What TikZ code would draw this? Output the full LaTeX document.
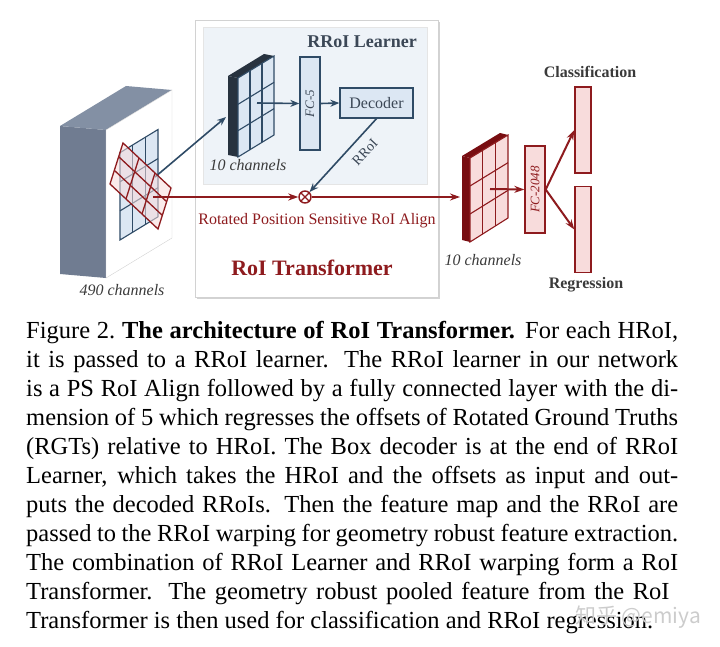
\documentclass[tikz,border=0pt]{standalone}
\usepackage{fontspec}
\usepackage{graphicx}
\setmainfont{Liberation Serif}
\newfontfamily\cjkfont{Noto Sans CJK SC}
\usepackage{tikz}
\usetikzlibrary{arrows.meta, calc, shadows}

\definecolor{bluedk}{HTML}{2F4B66}
\definecolor{bluefl}{HTML}{DCE7F3}
\definecolor{learnfl}{HTML}{EEF3F8}
\definecolor{slabdk}{HTML}{27323F}
\definecolor{reddk}{HTML}{8E1B1E}
\definecolor{redfl}{HTML}{F8DCDC}
\definecolor{redside}{HTML}{780D11}
\definecolor{cubeside}{HTML}{707C91}
\definecolor{cubetop}{HTML}{8390A4}
\definecolor{txtgray}{HTML}{3A3A3A}
\definecolor{learntxt}{HTML}{3B4756}

\tikzset{
  gridB/.style   = {draw=bluedk, line width=1.1pt},
  gridR/.style   = {draw=reddk, line width=1.3pt},
  barrow/.style  = {draw=bluedk, line width=1.6pt, -{Stealth[length=9pt,width=7pt]}},
  rarrow/.style  = {draw=reddk, line width=2pt, -{Stealth[length=10pt,width=7pt]}},
  fcB/.style     = {rectangle, draw=bluedk, fill=bluefl, line width=1.4pt, inner sep=0pt,
                    minimum width=20pt, minimum height=93pt,
                    font=\fontsize{13}{13}\selectfont\itshape, text=learntxt},
  fcR/.style     = {rectangle, draw=reddk, fill=redfl, line width=1.4pt, inner sep=0pt,
                    minimum width=20pt, minimum height=87pt,
                    font=\fontsize{13}{13}\selectfont\itshape, text=reddk},
  outbar/.style  = {rectangle, draw=reddk, fill=redfl, line width=1.4pt, inner sep=0pt,
                    minimum width=16pt, minimum height=86pt},
  chan/.style    = {font=\fontsize{16}{16}\selectfont\itshape, text=txtgray},
  head/.style    = {font=\fontsize{16}{16}\selectfont\bfseries, text=txtgray},
  capline/.style = {anchor=base west, inner sep=0pt, font=\fontsize{24.5}{29}\selectfont},
}

\begin{document}
\begin{tikzpicture}[x=1pt, y=-1pt]
  \useasboundingbox (0,0) rectangle (720,647);

  %% RoI Transformer frame
  \node[draw=gray!35, fill=white, minimum width=243pt, minimum height=277pt,
        drop shadow={opacity=0.35, shadow xshift=2pt, shadow yshift=-2pt}] (rtbox) at (316.5,158.5) {};
  \node[draw=gray!20, fill=learnfl, minimum width=224pt, minimum height=157pt] (learner) at (315,105.5) {};
  \node[font=\fontsize{18}{18}\selectfont\bfseries, text=learntxt] (lrnlbl) at (362,42) {RRoI Learner};

  %% input feature cube (490 channels)
  \fill[cubeside] (60,126) -- (106,130) -- (106,278) -- (60,274) -- cycle;
  \fill[cubetop]  (60,126) -- (126,86) -- (172,90) -- (106,130) -- cycle;
  \filldraw[fill=white, draw=gray!35] (106,130) -- (172,90) -- (172,238) -- (106,278) -- cycle;
  \coordinate (g1) at (120,152.7);
  \coordinate (g2) at (158,129.5);
  \coordinate (g3) at (158,216.8);
  \coordinate (g4) at (120,240);
  \filldraw[gridB, fill=bluefl] (g1) -- (g2) -- (g3) -- (g4) -- cycle;
  \foreach \k in {1,2} {
    \draw[gridB] ($(g1)!\k/3!(g2)$) -- ($(g4)!\k/3!(g3)$);
    \draw[gridB] ($(g1)!\k/3!(g4)$) -- ($(g2)!\k/3!(g3)$);
  }
  \node[chan] (chan490) at (122,290) {490 channels};

  %% blue feature map (10 channels)
  \coordinate (b1) at (238,78);
  \coordinate (b2) at (274,56);
  \coordinate (b3) at (274,135);
  \coordinate (b4) at (238,157);
  \fill[slabdk] (b1) -- (b4) -- ($(b4)+(-10,-2)$) -- ($(b1)+(-10,-2)$) -- cycle;
  \fill[slabdk] (b1) -- (b2) -- ($(b2)+(-10,-2)$) -- ($(b1)+(-10,-2)$) -- cycle;
  \filldraw[gridB, fill=bluefl] (b1) -- (b2) -- (b3) -- (b4) -- cycle;
  \foreach \k in {1,2} {
    \draw[gridB] ($(b1)!\k/3!(b2)$) -- ($(b4)!\k/3!(b3)$);
    \draw[gridB] ($(b1)!\k/3!(b4)$) -- ($(b2)!\k/3!(b3)$);
  }
  \node[chan] (chanb) at (248,165) {10 channels};

  \node[fcB] (fc5) at (310,103.5) {\rotatebox{90}{FC-5}};
  \node[rectangle, draw=bluedk, fill=bluefl, line width=1.3pt, minimum width=73pt, minimum height=30pt,
        font=\fontsize{16}{16}\selectfont, text=learntxt] (dec) at (376.5,103) {Decoder};

  %% blue connections
  \coordinate (bstart) at (155,177);
  \coordinate (bin)    at (226,117);
  \coordinate (bc)     at (257,103);
  \draw[barrow] (bstart) -- (bin);
  \draw[barrow] (bc) -- (fc5.west);
  \draw[barrow] (fc5.east) -- (dec.west);

  %% rotated grid on the cube
  \coordinate (rl) at (110,184);
  \coordinate (rt) at (123,143);
  \coordinate (rr) at (171,188);
  \coordinate (rb) at (158,229);
  \filldraw[gridR, fill=redfl, fill opacity=0.55] (rl) -- (rt) -- (rr) -- (rb) -- cycle;
  \foreach \k in {1,2} {
    \draw[gridR] ($(rl)!\k/3!(rt)$) -- ($(rb)!\k/3!(rr)$);
    \draw[gridR] ($(rl)!\k/3!(rb)$) -- ($(rt)!\k/3!(rr)$);
  }

  %% rotated PS RoI align
  \node[circle, draw=reddk, line width=1.4pt, fill=white, minimum size=12pt, inner sep=0pt] (otm) at (305,197) {};
  \draw[reddk, line width=1.2pt] (otm.45) -- (otm.225) (otm.135) -- (otm.315);
  \draw[barrow] (dec.south) -- (otm);
  \node[rotate=47, font=\fontsize{14}{14}\selectfont, text=learntxt] (rroilbl) at (365,152) {RRoI};
  \coordinate (rstart) at (153,197);
  \coordinate (rin)    at (460,197);
  \draw[rarrow] (rstart) -- (otm.west);
  \draw[rarrow] (otm.east) -- (rin);
  \node[text=reddk, font=\fontsize{16}{16}\selectfont] (rpsalign) at (317,221) {Rotated Position Sensitive RoI Align};
  \node[text=reddk, font=\fontsize{22}{22}\selectfont\bfseries] (rtlbl) at (312,268) {RoI Transformer};

  %% red feature map and heads
  \coordinate (r1) at (470,158);
  \coordinate (r2) at (508,135);
  \coordinate (r3) at (508,218);
  \coordinate (r4) at (470,242);
  \fill[redside] (r1) -- (r4) -- ($(r4)+(-8,-2)$) -- ($(r1)+(-8,-2)$) -- cycle;
  \fill[redside] (r1) -- (r2) -- ($(r2)+(-8,-2)$) -- ($(r1)+(-8,-2)$) -- cycle;
  \filldraw[gridR, line width=1.1pt, fill=redfl] (r1) -- (r2) -- (r3) -- (r4) -- cycle;
  \foreach \k in {1,2} {
    \draw[gridR, line width=1.1pt] ($(r1)!\k/3!(r2)$) -- ($(r4)!\k/3!(r3)$);
    \draw[gridR, line width=1.1pt] ($(r1)!\k/3!(r4)$) -- ($(r2)!\k/3!(r3)$);
  }
  \node[chan] (chanr) at (483,260) {10 channels};

  \node[fcR] (fc2048) at (535,189.5) {\rotatebox{90}{FC-2048}};
  \node[outbar] (clsbar) at (583,130) {};
  \node[outbar] (regbar) at (583,229.5) {};
  \node[head] (clslbl) at (590,72) {Classification};
  \node[head] (reglbl) at (586,285) {Regression};

  \coordinate (rc) at (490,189);
  \draw[rarrow] (rc) -- (fc2048.west);
  \draw[rarrow] (fc2048.east) -- (clsbar.west);
  \draw[rarrow] (fc2048.east) -- (regbar.west);

  %% caption
  \foreach \capl [count=\i] in {
    {Figure 2.\ \textbf{The architecture of RoI Transformer.} For each HRoI,},
    {it is passed to a RRoI learner.  The RRoI learner in our network},
    {is a PS RoI Align followed by a fully connected layer with the di-},
    {mension of 5 which regresses the offsets of Rotated Ground Truths},
    {(RGTs) relative to HRoI. The Box decoder is at the end of RRoI},
    {Learner, which takes the HRoI and the offsets as input and out-},
    {puts the decoded RRoIs.  Then the feature map and the RRoI are},
    {passed to the RRoI warping for geometry robust feature extraction.},
    {The combination of RRoI Learner and RRoI warping form a RoI},
    {Transformer.  The geometry robust pooled feature from the RoI}
  }{
    \node[capline] (cap\i) at (26,{338+29*(\i-1)}) {\makebox[652pt][s]{\capl}};
  }
  \node[capline] (cap11) at (26,628) {Transformer is then used for classification and RRoI regression.};

  \node[font=\cjkfont\fontsize{21}{21}\selectfont, text=gray!40] (wmark) at (638,617) {知乎 @emiya};

\end{tikzpicture}
\end{document}
